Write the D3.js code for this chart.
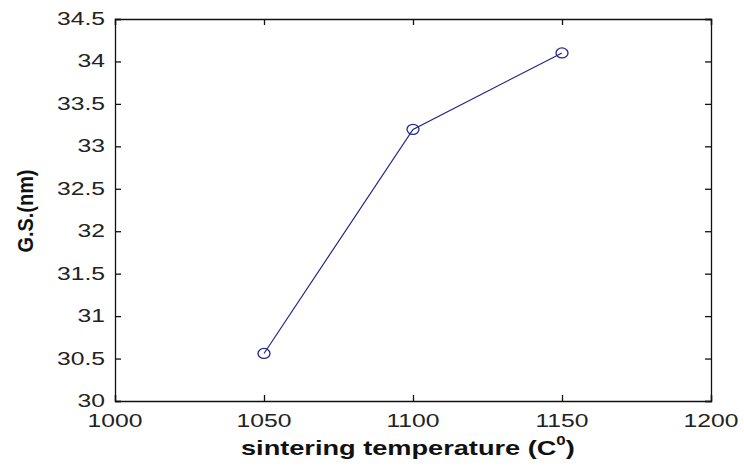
<!DOCTYPE html>
<html><head><meta charset="utf-8">
<script src="https://cdn.jsdelivr.net/npm/d3@7"></script>
<style>html,body{margin:0;padding:0;background:#fff;}svg{display:block;}</style>
</head><body>
<script>
const temperatures = [1050, 1100, 1150];
const grainSize = [30.56, 33.2, 34.1];
const xTicks = [1000, 1050, 1100, 1150, 1200];
const yTicks = [30, 30.5, 31, 31.5, 32, 32.5, 33, 33.5, 34, 34.5];
const xLabel = "sintering temperature (C";
const xLabelSup = "0";
const yLabel = "G.S.(nm)";

const W = 744, H = 470;
const L = 115, R = 711, T = 19, B = 401;
const svg = d3.select("body").append("svg").attr("width", W).attr("height", H);
svg.append("rect").attr("width", W).attr("height", H).attr("fill", "#fff");

const x = d3.scaleLinear().domain([1000, 1200]).range([L, R]);
const y = d3.scaleLinear().domain([30, 34.5]).range([B, T]);

const tickLen = 6;
const font = "Arial, 'Liberation Sans', sans-serif";
const stretch = 1.3;

const axB = d3.axisBottom(x).tickValues(xTicks).tickSize(-tickLen).tickFormat("");
const axT = d3.axisTop(x).tickValues(xTicks).tickSize(-tickLen).tickFormat("");
const axLft = d3.axisLeft(y).tickValues(yTicks).tickSize(-tickLen).tickFormat("");
const axRt = d3.axisRight(y).tickValues(yTicks).tickSize(-tickLen).tickFormat("");
[[axB, `translate(0,${B})`], [axT, `translate(0,${T})`], [axLft, `translate(${L},0)`], [axRt, `translate(${R},0)`]].forEach(([ax, tr]) => {
  const g = svg.append("g").attr("transform", tr).call(ax);
  g.selectAll("path.domain").attr("stroke", "#111").attr("stroke-width", 1.3);
  g.selectAll(".tick line").attr("stroke", "#111").attr("stroke-width", 1.3);
});

svg.append("g").selectAll("text").data(xTicks).join("text")
  .attr("transform", d => `translate(${x(d)},${B + 26}) scale(${stretch},1)`)
  .attr("text-anchor", "middle").attr("font-family", font).attr("font-size", 19)
  .attr("fill", "#222").text(d => d);
svg.append("g").selectAll("text").data(yTicks).join("text")
  .attr("transform", d => `translate(${L - 10},${y(d) + 6}) scale(${stretch},1)`)
  .attr("text-anchor", "end").attr("font-family", font).attr("font-size", 19)
  .attr("fill", "#222").text(d => d);

const xt = svg.append("text").attr("x", 241).attr("y", 455)
  .attr("font-family", font).attr("font-size", 21).attr("font-weight", "bold").attr("fill", "#111");
xt.append("tspan").text(xLabel);
xt.append("tspan").attr("font-size", 13).attr("dy", -10).text(xLabelSup);
xt.append("tspan").attr("dy", 10).text(")");
(function fit(){
  const w = xt.node().getBBox().width;
  const target = 334;
  xt.attr("transform", `translate(241,0) scale(${target / w},1) translate(-241,0)`);
})();

svg.append("text").attr("transform", `translate(33,${(T + B) / 2 + 1}) rotate(-90)`)
  .attr("text-anchor", "middle").attr("font-family", font).attr("font-size", 22)
  .attr("font-weight", "bold").attr("fill", "#111")
  .attr("textLength", 83).attr("lengthAdjust", "spacingAndGlyphs").text(yLabel);

const data = temperatures.map((t, i) => ({t, v: grainSize[i]}));
const col = "#25258f";
svg.append("path").datum(data)
  .attr("d", d3.line().x(d => x(d.t)).y(d => y(d.v)))
  .attr("fill", "none").attr("stroke", col).attr("stroke-width", 1.2);
svg.append("g").selectAll("ellipse").data(data).join("ellipse")
  .attr("cx", d => x(d.t)).attr("cy", d => y(d.v))
  .attr("rx", 6).attr("ry", 5)
  .attr("fill", "none").attr("stroke", col).attr("stroke-width", 1.3);
</script>
</body></html>
